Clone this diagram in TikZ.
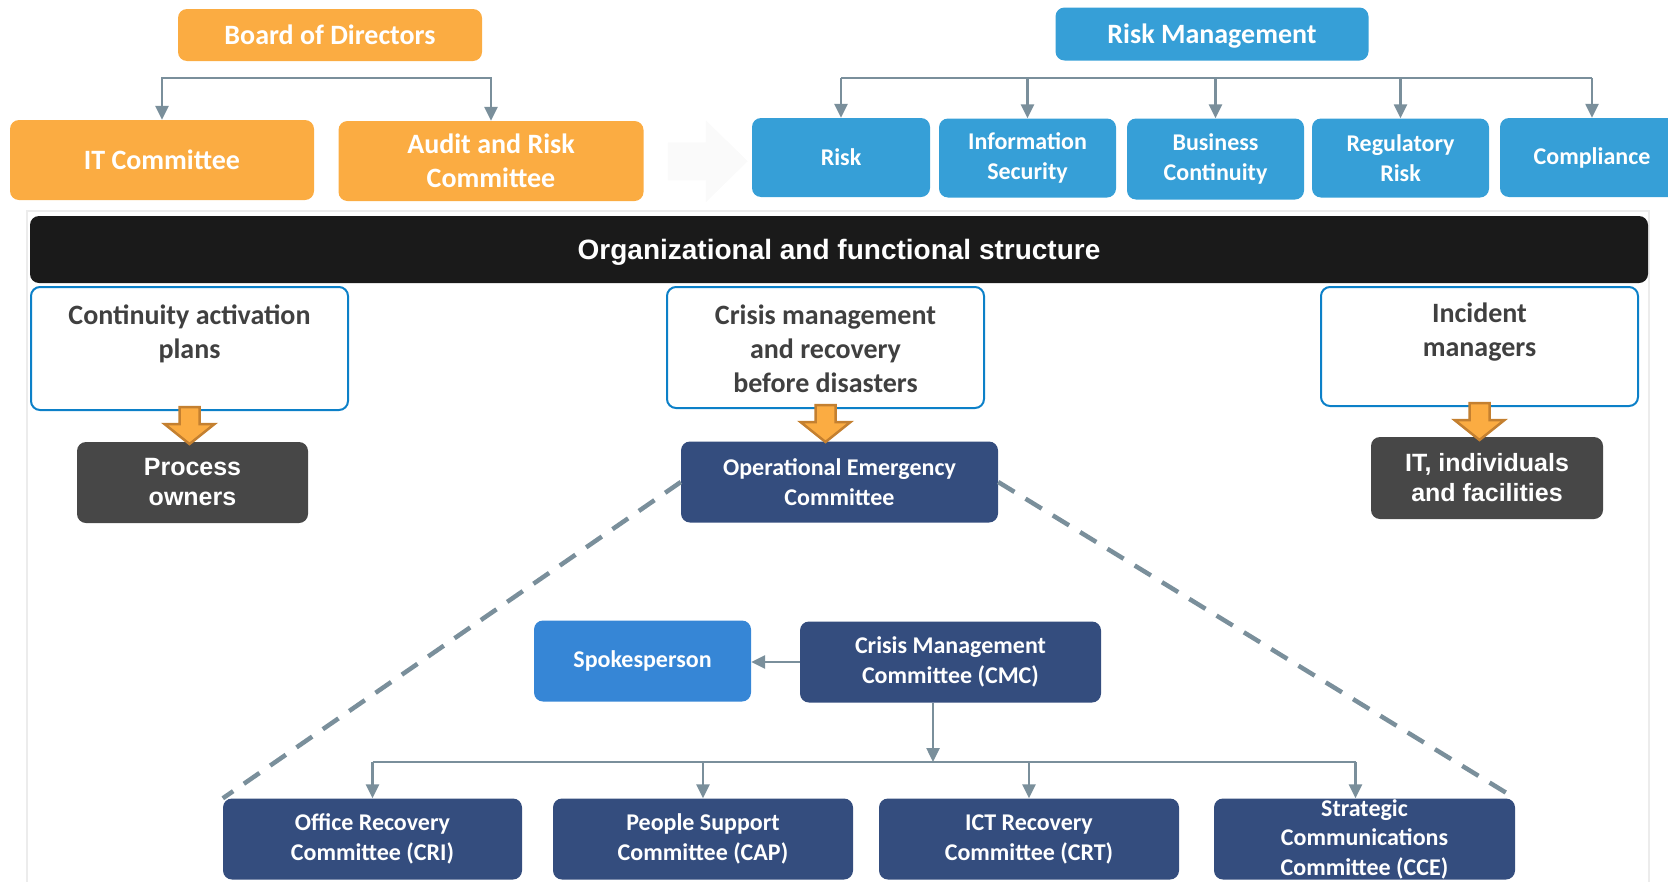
\documentclass[tikz,border=0pt]{standalone}
\usepackage{fontspec}
\setmainfont{Carlito}
\newfontfamily\arialf{Liberation Sans}
\usetikzlibrary{arrows.meta,calc}

\definecolor{orgorange}{RGB}{251,172,66}
\definecolor{orgborder}{RGB}{196,128,48}
\definecolor{rmblue}{RGB}{54,159,215}
\definecolor{navy}{RGB}{52,77,126}
\definecolor{darkbox}{RGB}{71,71,71}
\definecolor{spkblue}{RGB}{54,134,214}
\definecolor{outblue}{RGB}{12,128,200}
\definecolor{conngray}{RGB}{122,143,155}
\definecolor{barblack}{RGB}{26,26,26}
\definecolor{textgray}{RGB}{64,64,64}

\begin{document}
\begin{tikzpicture}[x=1pt,y=-1pt,
  box/.style={rounded corners=9pt, inner sep=0pt, align=center, text=white},
  sz/.style 2 args={minimum width=#1pt, minimum height=#2pt},
  big/.style={font=\bfseries\fontsize{28}{34}\selectfont},
  small/.style={font=\bfseries\fontsize{24}{30}\selectfont},
  orgbox/.style={box, big, fill=orgorange},
  rmbox/.style={box, small, fill=rmblue},
  navybox/.style={box, small, fill=navy},
  greybox/.style={box, fill=darkbox, font=\arialf\bfseries\fontsize{25}{30}\selectfont},
  planbox/.style={box, big, draw=outblue, line width=2pt, fill=white, text=textgray},
  conn/.style={draw=conngray, line width=2.5pt},
  tip/.style={-{Triangle[width=13pt,length=14pt]}},
  dashline/.style={draw=conngray, line width=4.5pt, dash pattern=on 19pt off 13pt},
  blockarr/.style={fill=orgorange, draw=orgborder, line width=2.5pt, line join=miter}
]
\useasboundingbox (0,0) rectangle (1668,881);
\draw[gray!15, line width=1.5pt] (27,211) rectangle (1649,895);

\node[orgbox, sz={304}{52}] (board) at (330,35) {Board of Directors};
\node[orgbox, sz={304}{80}] (itc) at (162,160) {IT Committee};
\node[orgbox, sz={305}{80}] (arc) at (491,161) {Audit and Risk\\Committee};

\node[rmbox, big, sz={313}{53}, text depth=0pt] (rm) at (1212,34) {Risk Management};
\node[rmbox, sz={178}{79}] (risk) at (841,157.5) {Risk};
\node[rmbox, sz={177}{79}] (infosec) at (1027.5,158) {Information\\Security};
\node[rmbox, sz={177}{81}] (bcont) at (1215.5,159) {Business\\Continuity};
\node[rmbox, sz={177}{79}] (regrisk) at (1400.5,158) {Regulatory\\Risk};
\node[rmbox, sz={184}{79}] (compl) at (1592,157.5) {Compliance};

\coordinate (mid) at ($(arc.east)!0.5!(risk.west)$);
\fill[gray!4] (mid) ++(-30,-17) -- ++(38,0) -- ++(0,-22) -- ++(42,41) -- ++(-42,41) -- ++(0,-22) -- ++(-38,0) -- cycle;

\coordinate (bdbus) at (330,78);
\draw[conn, {Triangle[width=13pt,length=14pt]}-{Triangle[width=13pt,length=14pt]}] (itc.north) |- (bdbus) -| (arc.north);
\coordinate (rmbus) at (1212,78);
\draw[conn] (risk.north |- rmbus) -- (compl.north |- rmbus);
\foreach \n in {risk,infosec,bcont,regrisk,compl}
  \draw[conn,tip] (\n.north |- rmbus) -- (\n.north);

\node[box, fill=barblack, sz={1618}{67}, text depth=0pt, font=\arialf\bfseries\fontsize{28}{34}\selectfont] (bar) at (839,249.5) {Organizational and functional structure};

\node[planbox, sz={317}{123}] (cap) at (189.5,348.5) {\parbox[c][118pt][t]{300pt}{\vspace*{15pt}\centering Continuity activation\\plans}};
\node[planbox, sz={317}{121}] (crisis) at (825.5,347.5) {\parbox[c][116pt][t]{300pt}{\vspace*{15pt}\centering Crisis management\\and recovery\\before disasters}};
\node[planbox, sz={317}{119}] (incident) at (1479.5,346.5) {\parbox[c][114pt][t]{300pt}{\vspace*{13pt}\centering Incident\\managers}};

\node[greybox, sz={231}{81}] (po) at (192.5,482.5) {Process\\owners};
\node[navybox, sz={317}{81}] (oec) at (839.5,482) {Operational Emergency\\Committee};
\node[greybox, sz={232}{82}] (itind) at (1487,478) {IT, individuals\\and facilities};

\foreach \s in {cap,crisis,incident}
  \draw[blockarr] (\s.south) ++(-10,-4) -- ++(20,0) -- ++(0,17) -- ++(15,0) -- ++(-25,20) -- ++(-25,-20) -- ++(15,0) -- cycle;

\node[box, small, fill=spkblue, sz={217}{81}] (spk) at (642.5,661) {Spokesperson};
\node[navybox, sz={301}{81}] (cmc) at (950.5,662) {Crisis Management\\Committee (CMC)};

\node[navybox, sz={299}{81}] (ori) at (372.5,839) {Office Recovery\\Committee (CRI)};
\node[navybox, sz={300}{81}] (psc) at (703,839) {People Support\\Committee (CAP)};
\node[navybox, sz={300}{81}] (ict) at (1029,839) {ICT Recovery\\Committee (CRT)};
\node[navybox, sz={301}{81}] (sci) at (1364.5,839) {\parbox[c][70pt][c]{290pt}{\centering\fontsize{24}{29.5}\selectfont Strategic\\Communications\\Committee (CCE)}};

\draw[dashline] (oec.west) -- (ori.north west);
\draw[dashline] (oec.east) -- (sci.north east);

\draw[conn,tip] (cmc.west) -- (cmc.west -| spk.east);
\coordinate (cmcbus) at (933,762);
\coordinate (scidrop) at ($(sci.north)+(-9,0)$);
\draw[conn,tip] (cmc.south -| cmcbus) -- (cmcbus);
\draw[conn] (ori.north |- cmcbus) -- (scidrop |- cmcbus);
\foreach \n in {ori,psc,ict,scidrop}
  \draw[conn,tip] (\n.north |- cmcbus) -- (\n.north);
\end{tikzpicture}
\end{document}
